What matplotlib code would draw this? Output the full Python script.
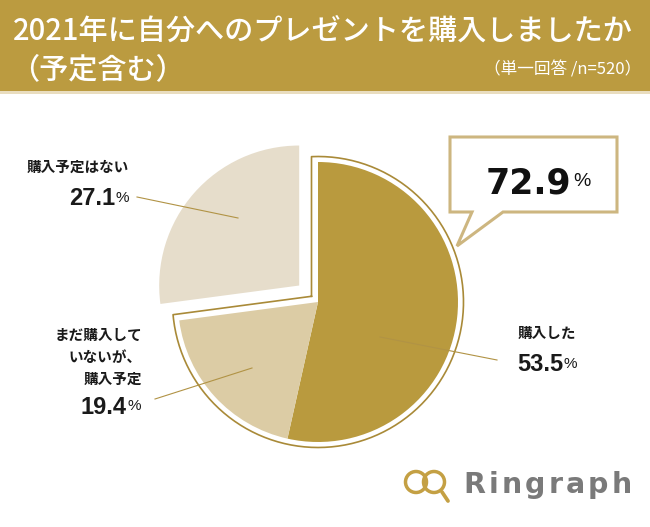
import numpy as np
import matplotlib
matplotlib.use("Agg")
import matplotlib.pyplot as plt
from matplotlib.patches import Rectangle, Polygon, Circle
from matplotlib.lines import Line2D

plt.rcParams['font.family'] = ['Noto Sans CJK JP', 'DejaVu Sans']

# ---- data ----
title_line1 = "2021年に自分へのプレゼントを購入しましたか"
title_line2 = "（予定含む）"
subtitle = "（単一回答 /n=520）"
categories = ["購入した", "まだ購入して\nいないが、\n購入予定", "購入予定はない"]
values = [53.5, 19.4, 27.1]
group_total = "72.9"
slice_colors = ["#B99A3E", "#DCCCA5", "#E6DDCB"]
brand = "Ringraph"

W, H = 650, 527
fig = plt.figure(figsize=(W / 100, H / 100), dpi=100)
fig.patch.set_facecolor("white")
ax = fig.add_axes([0, 0, 1, 1])


def Y(y):
    return H - y


GOLD = "#BB9B40"
LINE_GOLD = "#B19345"

# ---- header ----
ax.add_patch(Rectangle((0, Y(91)), W, 91, facecolor=GOLD, edgecolor="none", zorder=1))
ax.add_patch(Rectangle((0, Y(94)), W, 3, facecolor="#E9DDBF", edgecolor="none", zorder=1))
ax.text(13, Y(31), title_line1, color="white", fontsize=21, fontweight="medium",
        ha="left", va="center", zorder=3)
ax.text(10, Y(70), title_line2, color="white", fontsize=21, fontweight="medium",
        ha="left", va="center", zorder=3)
ax.text(641, Y(70), subtitle, color="white", fontsize=12, ha="right", va="center", zorder=3)

# ---- pie ----
cx, cy, R = 318, Y(302), 140
explode_px = 25
explode = [0, 0, explode_px]
wedges, _ = ax.pie(values, colors=slice_colors, startangle=90, counterclock=False,
                   center=(cx, cy), radius=R, explode=explode,
                   wedgeprops=dict(linewidth=0), frame=True)

# outline around the purchased group (first two slices)
grp_frac = (values[0] + values[1]) / sum(values)
a_end = np.deg2rad(90 - 360 * grp_frac)
d, R2 = 6.5, 145.5
u = np.array([np.cos(a_end), np.sin(a_end)])
n = np.array([-u[1], u[0]])
t = d * (n[0] - 1) / u[0]
corner = np.array([cx, cy]) + t * u - d * n
a1 = np.pi / 2 + np.arcsin(d / R2)
a2 = a_end - np.arcsin(d / R2)
arc_t = np.linspace(a1, a2, 300)
xs = np.concatenate([[corner[0]], cx + R2 * np.cos(arc_t), [corner[0]]])
ys = np.concatenate([[corner[1]], cy + R2 * np.sin(arc_t), [corner[1]]])
ax.add_line(Line2D(xs, ys, color="#A98A38", lw=1.2, zorder=4))

# ---- leader lines ----
leaders = [((380, 337), (497, 360)), ((252, 368), (155, 399)), ((238, 218), (137, 197))]
for (x0, y0), (x1, y1) in leaders:
    ax.add_line(Line2D([x0, x1], [Y(y0), Y(y1)], color=LINE_GOLD, lw=0.8, zorder=5))

TXT = "#1A1A1A"
NUMFONT = ["Liberation Sans", "DejaVu Sans"]


def pct(x_right, y, val, size=17, psize=11):
    ax.text(x_right, Y(y), val, fontsize=size, fontweight="bold", family=NUMFONT,
            color=TXT, ha="right", va="center_baseline", zorder=6)
    ax.text(x_right + 1, Y(y), "%", fontsize=psize, family=NUMFONT,
            color=TXT, ha="left", va="center_baseline", zorder=6)


# 購入した
ax.text(547, Y(333), categories[0], fontsize=10.5, fontweight="bold", color=TXT,
        ha="center", va="center", zorder=6)
pct(563, 362, f"{values[0]}")
# まだ購入していないが、購入予定
ax.text(142, Y(357), categories[1], fontsize=10.5, fontweight="bold", color=TXT,
        ha="right", va="center", linespacing=1.45, zorder=6)
pct(127, 405, f"{values[1]}")
# 購入予定はない
ax.text(129, Y(167), categories[2], fontsize=10.5, fontweight="bold", color=TXT,
        ha="right", va="center", zorder=6)
pct(115, 196, f"{values[2]}")

# ---- callout box ----
box = [(450, 137), (617, 137), (617, 212), (503, 212), (457, 246), (472, 212), (450, 212)]
ax.add_patch(Polygon([(x, Y(y)) for x, y in box], closed=True, facecolor="white",
                     edgecolor="#CDB680", lw=2.2, joinstyle="miter", zorder=7))
ax.text(571, Y(180), group_total, fontsize=25, fontweight="bold", family=["DejaVu Sans"],
        color="#111111", ha="right", va="center_baseline", zorder=8)
ax.text(573, Y(180), "%", fontsize=14, family=NUMFONT, color="#111111",
        ha="left", va="center_baseline", zorder=8)

# ---- logo ----
LOGO_GOLD = "#C4A044"
ax.add_patch(Circle((416, Y(482)), 10.5, fill=False, edgecolor=LOGO_GOLD, lw=2.5, zorder=6))
ax.add_patch(Circle((434, Y(482)), 10.5, fill=False, edgecolor=LOGO_GOLD, lw=2.5, zorder=6))
ax.add_line(Line2D([442, 448], [Y(492), Y(501)], color=LOGO_GOLD, lw=2.7,
                   solid_capstyle="round", zorder=6))

fig.canvas.draw()
renderer = fig.canvas.get_renderer()
xpos = 463
spacing = 3.2
for ch in brand:
    tx = ax.text(xpos, Y(493), ch, fontsize=20.5, fontweight="bold", family=["DejaVu Sans"],
                 color="#7A7A7A", ha="left", va="baseline", zorder=6)
    bb = tx.get_window_extent(renderer=renderer)
    xpos += bb.width + spacing

ax.set_xlim(0, W)
ax.set_ylim(0, H)
ax.set_aspect("auto")
ax.axis("off")

fig.savefig("out.png", dpi=100, facecolor="white")
